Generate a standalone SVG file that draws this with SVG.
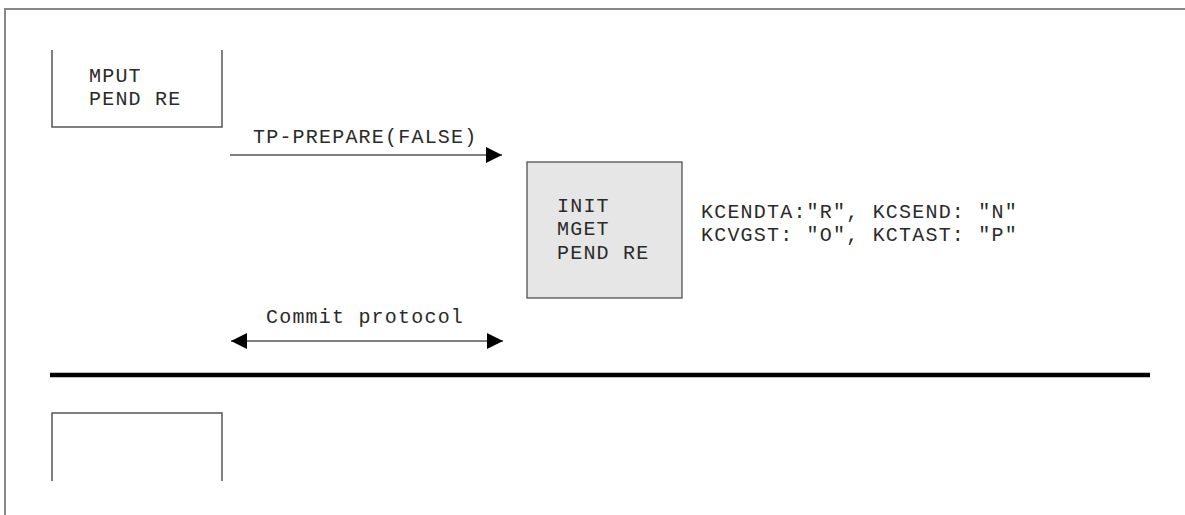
<svg xmlns="http://www.w3.org/2000/svg" width="1185" height="515" viewBox="0 0 1185 515">
<style>
.t{font-family:"Liberation Mono","DejaVu Sans Mono",monospace;font-size:20px;letter-spacing:1.2px;fill:#2a2a2a}
.ln{stroke:#555;stroke-width:1.5;fill:none}
.box{fill:#e6e6e6;stroke:#444;stroke-width:1.2}
</style>
<defs>
<marker id="ah" viewBox="0 0 16 16" refX="16" refY="8" markerWidth="16" markerHeight="16" markerUnits="userSpaceOnUse" orient="auto-start-reverse">
<path d="M0,0 L16,8 L0,16 Z" fill="#000"/>
</marker>
</defs>
<rect width="1185" height="515" fill="#fff"/>
<g id="frame">
<path d="M5,515 V9 H1185" fill="none" stroke="#888" stroke-width="2"/>
</g>
<g id="node-mput">
<path class="ln" d="M52,50 V127 H222 V50"/>
<text class="t" x="89" y="82">MPUT</text>
<text class="t" x="89" y="105">PEND RE</text>
</g>
<g id="node-init">
<rect class="box" x="527" y="162" width="155" height="136"/>
<text class="t" x="557" y="212">INIT</text>
<text class="t" x="557" y="235">MGET</text>
<text class="t" x="557" y="259">PEND RE</text>
</g>
<g id="node-kc">
<text class="t" x="701" y="218">KCENDTA:"R", KCSEND: "N"</text>
<text class="t" x="701" y="241">KCVGST: "O", KCTAST: "P"</text>
</g>
<g id="separator">
<line x1="50" y1="375" x2="1150" y2="375" stroke="#000" stroke-width="4.5"/>
</g>
<g id="node-bottom">
<path class="ln" d="M52,481 V413 H222 V481"/>
</g>
<g id="connectors">
<line class="ln" x1="230" y1="155" x2="502" y2="155" marker-end="url(#ah)"/>
<text class="t" x="253" y="143">TP-PREPARE(FALSE)</text>
<line class="ln" x1="231" y1="341" x2="503" y2="341" marker-start="url(#ah)" marker-end="url(#ah)"/>
<text class="t" x="266" y="323">Commit protocol</text>
</g>
</svg>
